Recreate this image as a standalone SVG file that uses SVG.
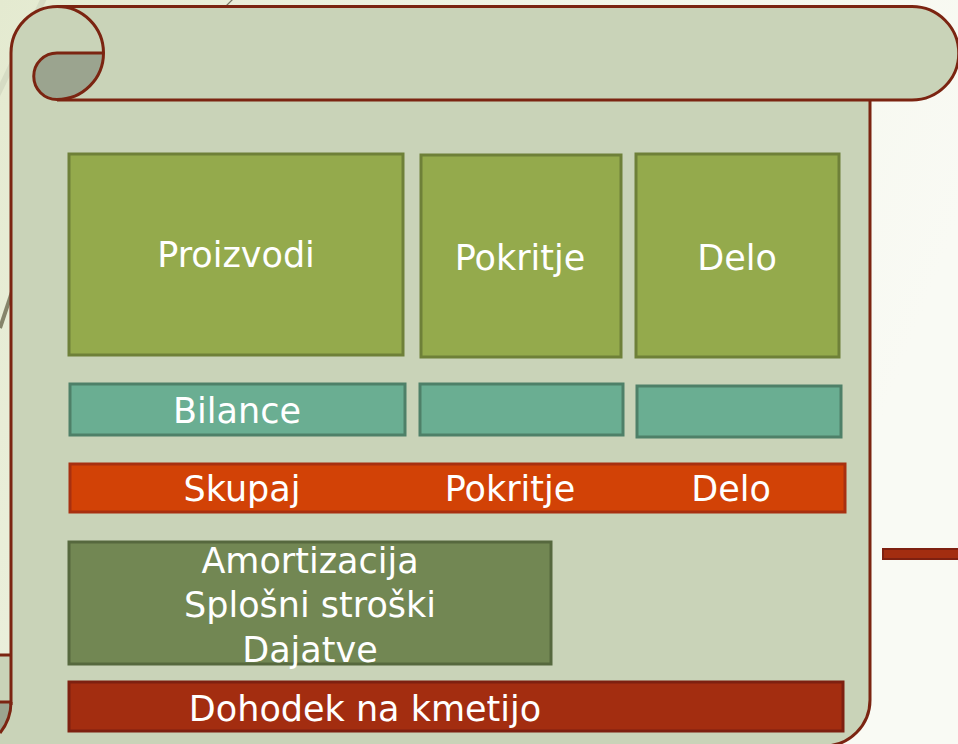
<svg xmlns="http://www.w3.org/2000/svg" width="958" height="744" viewBox="0 0 958 744">
<defs>
<linearGradient id="bg" x1="0" y1="0" x2="1" y2="0.3">
<stop offset="0" stop-color="#e4ead0"/>
<stop offset="0.6" stop-color="#f3f6ea"/>
<stop offset="1" stop-color="#f9faf4"/>
</linearGradient>
<style>
.scroll{fill:#c9d3b8;}
.edge{fill:none;stroke:#7b2411;stroke-width:3;stroke-linejoin:round;}
.curl{fill:#9ba48f;}
.green{fill:#94aa4c;stroke:#6e8038;stroke-width:3;}
.teal{fill:#6aae92;stroke:#4e8068;stroke-width:3;}
.orange{fill:#d24206;stroke:#a83010;stroke-width:3;}
.dark{fill:#728753;stroke:#56683e;stroke-width:3;}
.red{fill:#a32d10;stroke:#7e2010;stroke-width:3;}
.t{font-family:"DejaVu Sans",sans-serif;font-size:35px;fill:#ffffff;text-anchor:middle;}
</style>
</defs>
<rect x="0" y="0" width="958" height="744" fill="url(#bg)"/>
<g id="background-lines">
<line x1="-10" y1="110" x2="46" y2="-6" stroke="#d6dcc4" stroke-width="6"/>
<line x1="0" y1="328" x2="60" y2="148" stroke="#85846a" stroke-width="4"/>
<line x1="222" y1="10" x2="233" y2="-1" stroke="#777766" stroke-width="1.2"/>
<rect x="883" y="549" width="80" height="10" fill="#a32d10" stroke="#7e2010" stroke-width="2"/>
</g>
<g id="scroll">
<path class="scroll" d="M11,746 V53 A46.5,46.5 0 0 1 57.5,6.5 H912 A46.5,46.5 0 0 1 912,100 H870 V700 A46,46 0 0 1 824,746 Z"/>
<rect class="scroll" x="0" y="655" width="12" height="47"/>
<path class="scroll" d="M0,702 H11 V746 H0 Z"/>
<path class="curl" d="M0,702 H11 A49,49 0 0 1 0,733 Z"/>
<path class="curl" d="M57,53 H103.5 A46.5,46.5 0 0 1 57,99.5 A23.25,23.25 0 0 1 57,53 Z"/>
<path class="edge" d="M11,705 V53 A46.5,46.5 0 0 1 57.5,6.5 H912 A46.5,46.5 0 0 1 912,100 H57"/>
<path class="edge" d="M57,6.5 A46.5,46.5 0 0 1 57,99.5"/>
<path class="edge" d="M103.5,53 H57 A23.25,23.25 0 0 0 57,99.5"/>
<path class="edge" d="M870,100 V700 A46,46 0 0 1 824,746"/>
<path class="edge" d="M11,702 A49,49 0 0 1 0,733"/>
<path class="edge" d="M0,655 H11 M0,702 H11"/>
</g>
<g id="proizvodi">
<rect class="green" x="69" y="154" width="334" height="201"/>
<text class="t" x="236" y="267">Proizvodi</text>
</g>
<g id="pokritje-top">
<rect class="green" x="421" y="155" width="200" height="202"/>
<text class="t" x="520" y="270">Pokritje</text>
</g>
<g id="delo-top">
<rect class="green" x="636" y="154" width="203" height="203"/>
<text class="t" x="737" y="270">Delo</text>
</g>
<g id="bilance">
<rect class="teal" x="70" y="384" width="335" height="51"/>
<text class="t" x="237" y="423">Bilance</text>
</g>
<g id="bilance-2">
<rect class="teal" x="420" y="384" width="203" height="51"/>
</g>
<g id="bilance-3">
<rect class="teal" x="637" y="386" width="204" height="51"/>
</g>
<g id="skupaj">
<rect class="orange" x="70" y="464" width="775" height="48"/>
<text class="t" x="242" y="501">Skupaj</text>
<text class="t" x="510" y="501">Pokritje</text>
<text class="t" x="731" y="501">Delo</text>
</g>
<g id="stroski">
<rect class="dark" x="69" y="542" width="482" height="122"/>
<text class="t" x="310" y="573">Amortizacija</text>
<text class="t" x="310" y="617">Splošni stroški</text>
<text class="t" x="310" y="662">Dajatve</text>
</g>
<g id="dohodek">
<rect class="red" x="69" y="682" width="774" height="49"/>
<text class="t" x="365" y="721">Dohodek na kmetijo</text>
</g>
<g id="connectors"></g>
</svg>
